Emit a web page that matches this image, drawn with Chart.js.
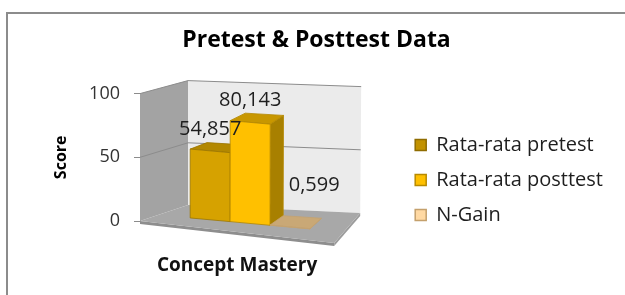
<!DOCTYPE html>
<html>
<head>
<meta charset="utf-8">
<script src="https://cdn.jsdelivr.net/npm/chart.js@4.4.1/dist/chart.umd.min.js"></script>
<style>
  html, body { margin: 0; padding: 0; background: #fff; overflow: hidden; }
  #frame { position: absolute; left: 6px; top: 12px; width: 700px; height: 400px; border: 2px solid #8c8c8c; box-sizing: border-box; }
  #wrap { position: absolute; left: 0; top: 0; width: 625px; height: 295px; }
</style>
</head>
<body>
<div id="frame"></div>
<div id="wrap"><canvas id="chart"></canvas></div>
<script>
  const categories = ["Concept Mastery"];
  const seriesLabels = ["Rata-rata pretest", "Rata-rata posttest", "N-Gain"];
  const pretestValues = [54.857];
  const posttestValues = [80.143];
  const nGainValues = [0.599];
  const yTickValues = [0, 50, 100];

  const FONT = "'Open Sans', 'Liberation Sans', sans-serif";

  // colours of the three faces of each 3d column, and how deep its value label sits
  const faces = [
    { front: "#d6a200", top: "#b38800", side: "#a27a00", edge: "#9c7600", labelDepth: 0.35 },
    { front: "#ffc000", top: "#c89700", side: "#a88000", edge: "#b48800", labelDepth: 0.35 },
    { front: "#cdab7b", top: "#c9a876", side: "#b8976a", edge: "#c4a270", labelDepth: 1.1 }
  ];

  const lerp = (a, b, t) => [a[0] + (b[0] - a[0]) * t, a[1] + (b[1] - a[1]) * t];

  // u: 0..1 across the category axis, w: 0..1 up the value axis, d: 0 front .. 1 back
  const makeBox = (area) => {
    const L = area.left, T = area.top, B = area.bottom, W = area.right - area.left;
    const front = { lb: [L, B], lt: [L, T], rb: [L + W, B + 22], rt: [L + W, T + 22] };
    const back = { lb: [L + 48, B - 16], lt: [L + 48, T - 13], rb: [L + W + 26, B - 8], rt: [L + W + 27, T - 7] };
    const plane = (p, u, w) => lerp(lerp(p.lb, p.rb, u), lerp(p.lt, p.rt, u), w);
    return (u, w, d) => lerp(plane(front, u, w), plane(back, u, w), d);
  };

  const poly = (ctx, pts, fill, stroke, lw) => {
    ctx.beginPath();
    pts.forEach((p, i) => (i ? ctx.lineTo(p[0], p[1]) : ctx.moveTo(p[0], p[1])));
    ctx.closePath();
    if (fill) {
      ctx.fillStyle = fill;
      ctx.fill();
    }
    if (stroke) {
      ctx.strokeStyle = stroke;
      ctx.lineWidth = lw || 1;
      ctx.stroke();
    }
  };

  const line = (ctx, pts, color, lw) => {
    ctx.beginPath();
    pts.forEach((p, i) => (i ? ctx.lineTo(p[0], p[1]) : ctx.moveTo(p[0], p[1])));
    ctx.strokeStyle = color;
    ctx.lineWidth = lw || 1;
    ctx.stroke();
  };

  // the layout caps a side legend at a quarter of the width; let it keep its full width
  const wideLegend = {
    id: "wideLegend",
    beforeLayout(chart) {
      const legend = chart.legend;
      if (legend && !legend._wide) {
        const update = legend.update.bind(legend);
        legend.update = (maxWidth, maxHeight, margins) => update(Math.max(maxWidth, 240), maxHeight, margins);
        legend._wide = true;
      }
    }
  };

  const box3d = {
    id: "box3d",
    beforeDatasetsDraw(chart) {
      const { ctx, chartArea: area, scales } = chart;
      const P = makeBox(area);
      const H = area.bottom - area.top;
      const toU = (px) => (px - area.left) / (area.right - area.left);
      const toW = (py) => (area.bottom - py) / H;

      ctx.save();
      // floor slab edge
      poly(ctx, [P(0, 0, 0), P(1, 0, 0), [P(1, 0, 0)[0], P(1, 0, 0)[1] + 3], [P(0, 0, 0)[0], P(0, 0, 0)[1] + 3]], "#8e8e8e");
      poly(ctx, [P(1, 0, 0), P(1, 0, 1), [P(1, 0, 1)[0], P(1, 0, 1)[1] + 3], [P(1, 0, 0)[0], P(1, 0, 0)[1] + 3]], "#9c9c9c");
      // walls and floor
      poly(ctx, [P(0, 0, 0), P(0, 1, 0), P(0, 1, 1), P(0, 0, 1)], "#a3a3a3");
      poly(ctx, [P(0, 0, 1), P(0, 1, 1), P(1, 1, 1), P(1, 0, 1)], "#ebebeb");
      poly(ctx, [P(0, 0, 0), P(1, 0, 0), P(1, 0, 1), P(0, 0, 1)], "#a8a8a8");

      // value grid lines on the walls
      yTickValues.forEach((v) => {
        const w = toW(scales.y.getPixelForValue(v));
        if (w > 0.001) {
          line(ctx, [P(0, w, 0), P(0, w, 1), P(1, w, 1)], "#8c8c8c", 1);
        }
      });

      // columns, left to right
      const labels = [];
      const d0 = 0.35, d1 = 0.73;
      chart.data.datasets.forEach((ds, i) => {
        const meta = chart.getDatasetMeta(i);
        const c = faces[i];
        meta.data.forEach((bar, j) => {
          const { x, y, base, width } = bar.getProps(["x", "y", "base", "width"], true);
          const u0 = toU(x - width / 2), u1 = toU(x + width / 2);
          const w0 = toW(base), w1 = toW(y);
          poly(ctx, [P(u1, w0, d0), P(u1, w1, d0), P(u1, w1, d1), P(u1, w0, d1)], c.side, c.edge, 0.8);
          poly(ctx, [P(u0, w1, d0), P(u1, w1, d0), P(u1, w1, d1), P(u0, w1, d1)], c.top, c.edge, 0.8);
          poly(ctx, [P(u0, w0, d0), P(u1, w0, d0), P(u1, w1, d0), P(u0, w1, d0)], c.front, c.edge, 0.8);
          const v = ds.data[j];
          const at = P((u0 + u1) / 2, w1, c.labelDepth);
          labels.push({ text: v.toFixed(3).replace(".", ","), x: at[0], y: at[1] - 22 });
        });
      });

      ctx.fillStyle = "#1e1e1e";
      ctx.font = "20px " + FONT;
      ctx.textAlign = "center";
      ctx.textBaseline = "middle";
      labels.forEach((l) => ctx.fillText(l.text, l.x, l.y));
      ctx.restore();
      return false;
    }
  };

  new Chart(document.getElementById("chart"), {
    type: "bar",
    data: {
      labels: categories,
      datasets: [
        { label: seriesLabels[0], data: pretestValues, backgroundColor: "#c29200", borderColor: "#8f6c00", borderWidth: 1.5 },
        { label: seriesLabels[1], data: posttestValues, backgroundColor: "#ffc000", borderColor: "#b88a00", borderWidth: 1.5 },
        { label: seriesLabels[2], data: nGainValues, backgroundColor: "#ffd9a3", borderColor: "#c4a06c", borderWidth: 1.5 }
      ]
    },
    options: {
      responsive: true,
      maintainAspectRatio: false,
      animation: false,
      categoryPercentage: 0.642,
      barPercentage: 1,
      layout: { padding: { left: 20, right: 12, top: 0, bottom: 0 } },
      plugins: {
        tooltip: { enabled: false },
        title: {
          display: true,
          text: "Pretest & Posttest Data",
          color: "#000",
          font: { family: FONT, size: 23, weight: "bold" },
          padding: { top: 27, bottom: 39 }
        },
        legend: {
          position: "right",
          align: "center",
          title: { display: true, text: " ", font: { size: 10 }, padding: { top: 53, bottom: 0 } },
          labels: {
            color: "#1e1e1e",
            boxWidth: 11,
            boxHeight: 11,
            padding: 15,
            font: { family: FONT, size: 20 }
          }
        }
      },
      scales: {
        x: {
          grid: { display: false, drawTicks: false },
          border: { display: false },
          ticks: { color: "#111", padding: 33, font: { family: FONT, size: 19, weight: "bold" } },
          afterFit: (scale) => { scale.height = 74; }
        },
        y: {
          min: 0,
          max: 100,
          afterBuildTicks: (scale) => { scale.ticks = yTickValues.map((v) => ({ value: v })); },
          grid: { drawOnChartArea: false, drawTicks: true, tickLength: 6, color: "#8c8c8c" },
          border: { display: true, color: "#8c8c8c" },
          ticks: { color: "#333", padding: 14, font: { family: FONT, size: 18 } },
          title: { display: true, text: "Score", color: "#000", font: { family: FONT, size: 16, weight: "bold" }, padding: { top: 32, bottom: 0 } },
          afterFit: (scale) => { scale.width = 120; }
        },
        gap: {
          position: "right",
          display: true,
          grid: { display: false },
          border: { display: false },
          ticks: { display: false },
          afterFit: (scale) => { scale.width = 66; }
        }
      }
    },
    plugins: [wideLegend, box3d]
  });
</script>
</body>
</html>
